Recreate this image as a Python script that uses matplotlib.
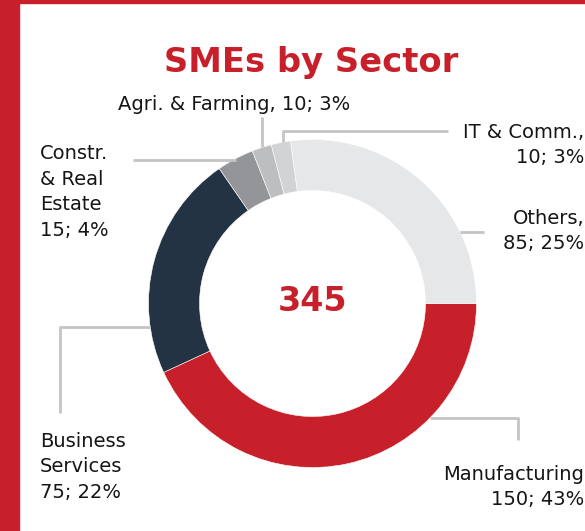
import matplotlib
matplotlib.use("Agg")
import matplotlib.pyplot as plt
from matplotlib.patches import Rectangle

# ---- data ----
sectors = ["Manufacturing", "Business Services", "Constr. & Real Estate",
           "Agri. & Farming", "IT & Comm.", "Others"]
counts = [150, 75, 15, 10, 10, 85]            # printed counts
percents = [43, 22, 4, 3, 3, 25]               # printed percentages
slice_sizes = [149, 77, 12.6, 6.7, 6.6, 93.8]  # slice sizes as drawn
total = 345
title = "SMEs by Sector"

RED = "#C8202A"
colors = [RED, "#233343", "#939598", "#BCBEC0", "#D1D3D4", "#E6E7E8"]
LINE = "#C4C4C4"
FONT = "DejaVu Sans"

W, H = 585, 531
fig = plt.figure(figsize=(W / 100, H / 100), dpi=100)
ax = fig.add_axes([0, 0, 1, 1])

def Y(y):
    return H - y

cx, cy, R = 312.5, 303.5, 164
ax.pie(slice_sizes, colors=colors, startangle=0, counterclock=False,
       radius=R, center=(cx, Y(cy)),
       wedgeprops=dict(width=51, edgecolor="white", linewidth=0.4))
ax.set_xlim(0, W)
ax.set_ylim(0, H)
ax.set_aspect("auto")
ax.axis("off")

# frame decorations
ax.add_patch(Rectangle((0, 0), 19, H, color=RED, zorder=5, clip_on=False))
ax.add_patch(Rectangle((0, Y(3)), W, 3, color=RED, zorder=5, clip_on=False))

# title and centre value
ax.text(311, Y(72), title, ha="center", va="baseline", fontsize=24.3,
        fontweight="bold", color=RED, family=FONT)
ax.text(312.5, Y(301.5), str(total), ha="center", va="center", fontsize=24,
        fontweight="bold", color=RED, family=FONT)

def lbl(i):
    return f"{counts[i]}; {percents[i]}%"

fs = 14
kw = dict(fontsize=fs, color="#151515", family=FONT, linespacing=1.45)

# leader lines
def line(xs, ys):
    ax.plot(xs, [Y(v) for v in ys], color=LINE, lw=2, solid_capstyle="butt", zorder=1)

line([262, 262], [117, 147])                 # Agri
line([283, 283, 448], [142, 131, 131])       # IT
line([133, 236], [160, 160])                 # Constr
line([460, 484], [232, 232])                 # Others
line([150, 60, 60], [327, 327, 413])         # Business
line([430, 518, 518], [418, 418, 440])       # Manufacturing

# labels
ax.text(118, Y(104), f"{sectors[3]}, " + lbl(3), ha="left", va="center", **kw)
ax.text(584, Y(145), f"{sectors[4]},\n" + lbl(4), ha="right", va="center",
        multialignment="right", **kw)
ax.text(584, Y(231), f"{sectors[5]},\n" + lbl(5), ha="right", va="center",
        multialignment="right", **kw)
ax.text(40, Y(192), "Constr.\n& Real\nEstate\n" + lbl(2), ha="left", va="center", **kw)
ax.text(40, Y(467), "Business\nServices\n" + lbl(1), ha="left", va="center", **kw)
ax.text(584, Y(487), f"{sectors[0]}\n" + lbl(0), ha="right", va="center",
        multialignment="right", **kw)

fig.savefig("out.png", dpi=100, facecolor="white")
